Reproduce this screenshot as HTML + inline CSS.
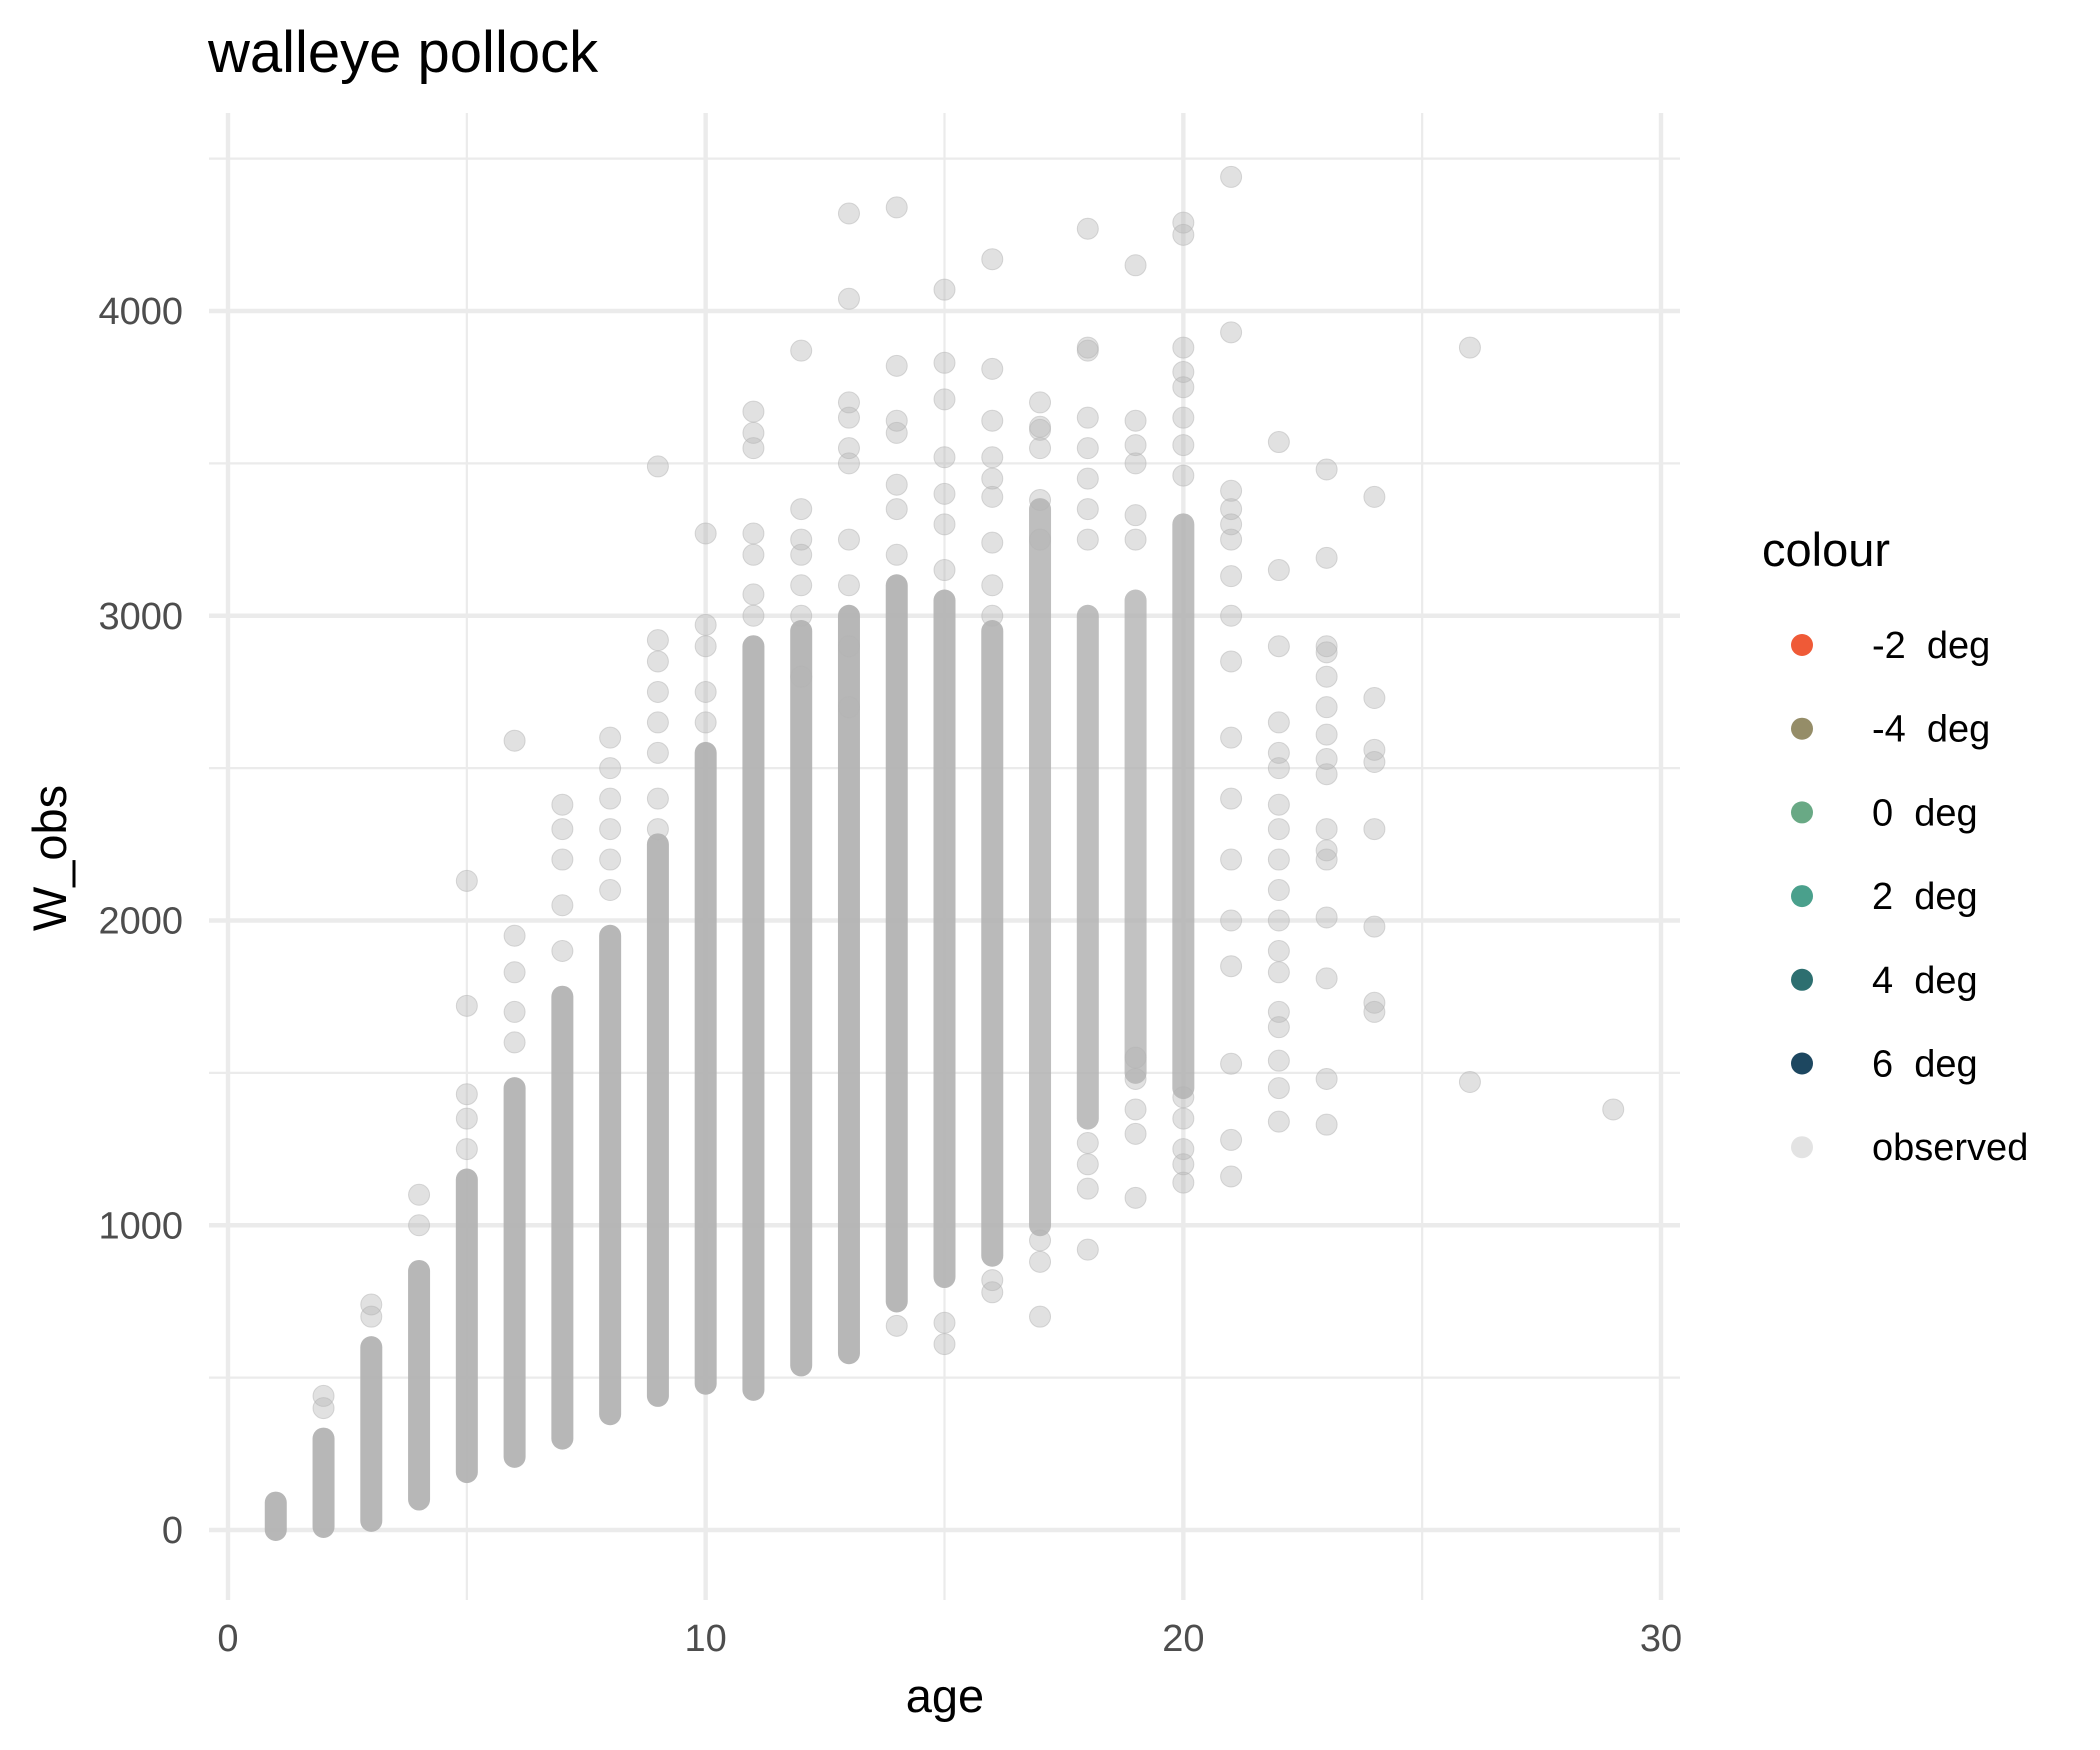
<!DOCTYPE html>
<html><head><meta charset="utf-8"><style>
html,body{margin:0;padding:0;background:#fff}
svg{display:block}
text{font-family:"Liberation Sans",Arial,sans-serif}
</style></head><body>
<svg id="chart" width="2100" height="1750" viewBox="0 0 2100 1750" xmlns="http://www.w3.org/2000/svg">
<rect width="2100" height="1750" fill="#fff"/>
<text x="208" y="72" font-size="58" fill="#000">walleye pollock</text>
<g id="grid"></g>
<g id="marks"></g>
<g id="axes"></g>
<text x="945" y="1712" font-size="47" text-anchor="middle" fill="#000">age</text>
<text transform="translate(66,858) rotate(-90)" font-size="47" text-anchor="middle" fill="#000">W_obs</text>
<g id="legend">
<text x="1762" y="566" font-size="47" fill="#000">colour</text>
</g>
</svg>
<script>
const xTicks=[0,10,20,30];
const xMinor=[5,15,25];
const yTicks=[0,1000,2000,3000,4000];
const yMinor=[500,1500,2500,3500,4500];
const colAges=[1,2,3,4,5,6,7,8,9,10,11,12,13,14,15,16,17,18,19,20];
const colLo=[0,10,30,100,190,240,300,380,440,480,460,540,580,750,830,900,1000,1350,1500,1450];
const colHi=[90,300,600,850,1150,1450,1750,1950,2250,2550,2900,2950,3000,3100,3050,2950,3350,3000,3050,3300];
const colDensity=[0.95,0.95,0.95,0.95,0.95,0.95,0.95,0.95,0.95,0.95,0.95,0.95,0.95,0.95,0.92,0.9,0.85,0.85,0.8,0.85];
const obsAges=[2,2,3,3,4,4,5,5,5,5,5,6,6,6,6,6,7,7,7,7,7,8,8,8,8,8,8,
9,9,9,9,9,9,9,9,10,10,10,10,10,11,11,11,11,11,11,11,12,12,12,12,12,12,12,
13,13,13,13,13,13,13,13,13,13,14,14,14,14,14,14,14,14,15,15,15,15,15,15,15,15,15,
16,16,16,16,16,16,16,16,16,16,16,17,17,17,17,17,17,17,17,17,
18,18,18,18,18,18,18,18,18,18,18,18,19,19,19,19,19,19,19,19,19,19,19,
20,20,20,20,20,20,20,20,20,20,20,20,20,21,21,21,21,21,21,21,21,21,21,21,21,21,21,21,21,21,
22,22,22,22,22,22,22,22,22,22,22,22,22,22,22,22,22,22,
23,23,23,23,23,23,23,23,23,23,23,23,23,23,23,23,24,24,24,24,24,24,24,24,26,26,29];
const obsW=[400,440,700,740,1000,1100,1250,1350,1430,1720,2130,1600,1700,1830,1950,2590,1900,2050,2200,2300,2380,2100,2200,2300,2400,2500,2600,
2300,2400,2550,2650,2750,2850,2920,3490,2650,2750,2900,2970,3270,3000,3070,3200,3270,3550,3600,3670,2800,3000,3100,3200,3250,3350,3870,
2700,2900,3100,3250,3500,3550,3650,3700,4040,4320,670,3200,3350,3430,3600,3640,3820,4340,610,680,3150,3300,3400,3520,3710,3830,4070,
780,820,3000,3100,3240,3390,3450,3520,3640,3810,4170,700,880,950,3250,3380,3550,3610,3700,3620,
920,1120,1200,1270,3250,3350,3450,3550,3650,3870,3880,4270,1090,1300,1380,1480,1550,3250,3330,3500,3560,3640,4150,
1140,1200,1250,1350,1420,3460,3560,3650,3750,3800,3880,4250,4290,1160,1280,1530,1850,2000,2200,2400,2600,2850,3000,3130,3250,3300,3350,3410,3930,4440,
1340,1450,1540,1650,1700,1830,1900,2000,2100,2200,2300,2380,2500,2550,2650,2900,3150,3570,
1330,1480,1810,2010,2200,2230,2300,2480,2530,2610,2700,2800,2880,2900,3190,3480,1700,1730,1980,2300,2520,2560,2730,3390,1470,3880,1380];
const legendLabels=["-2  deg","-4  deg","0  deg","2  deg","4  deg","6  deg","observed"];
const legendColors=["#ef5a37","#958d68","#69a985","#4aa08c","#2d6f70","#1d4760","#e3e3e3"];

const NS="http://www.w3.org/2000/svg";
const L=209,R=1680,T=113,B=1600;
const xs=v=>228+v*(1661-228)/30;
const ys=v=>1530-v*(1530-311)/4000;
function mk(tag,attrs,parent){const e=document.createElementNS(NS,tag);for(const k in attrs)e.setAttribute(k,attrs[k]);parent.appendChild(e);return e;}
const grid=document.getElementById('grid'),marks=document.getElementById('marks'),axes=document.getElementById('axes'),legend=document.getElementById('legend');
yMinor.forEach(v=>{const l=mk('line',{x1:L,x2:R,y1:ys(v),y2:ys(v),stroke:'#ebebeb','stroke-width':2.2},grid);

});
xMinor.forEach(v=>{const l=mk('line',{x1:xs(v),x2:xs(v),y1:T,y2:B,stroke:'#ebebeb','stroke-width':2.2},grid);

});
yTicks.forEach(v=>{const l=mk('line',{x1:L,x2:R,y1:ys(v),y2:ys(v),stroke:'#ebebeb','stroke-width':4.4},grid);


const t=mk('text',{x:183,y:ys(v)+13,'font-size':38,'text-anchor':'end',fill:'#4d4d4d'},axes);t.textContent=v;

});
xTicks.forEach(v=>{const l=mk('line',{x1:xs(v),x2:xs(v),y1:T,y2:B,stroke:'#ebebeb','stroke-width':4.4},grid);


const t=mk('text',{x:xs(v),y:1651,'font-size':38,'text-anchor':'middle',fill:'#4d4d4d'},axes);t.textContent=v;

});
colAges.forEach((a,i)=>{const l=mk('line',{x1:xs(a),x2:xs(a),y1:ys(colLo[i]),y2:ys(colHi[i]),stroke:'#b3b3b3','stroke-width':22,'stroke-linecap':'round','stroke-opacity':colDensity[i]},marks);

});
obsAges.forEach((a,i)=>{const c=mk('circle',{cx:xs(a),cy:ys(obsW[i]),r:10.5,fill:'#b3b3b3','fill-opacity':0.4,stroke:'#b3b3b3','stroke-opacity':0.5,'stroke-width':1},marks);

});
legendLabels.forEach((lab,i)=>{const y=645+i*83.7;
const c=mk('circle',{cx:1802,cy:y,r:11,fill:legendColors[i]},legend);


const t=mk('text',{x:1872,y:y+13,'font-size':38,fill:'#000'},legend);t.textContent=lab;t.setAttribute('xml:space','preserve');t.style.whiteSpace='pre';

});
</script>
</body></html>
